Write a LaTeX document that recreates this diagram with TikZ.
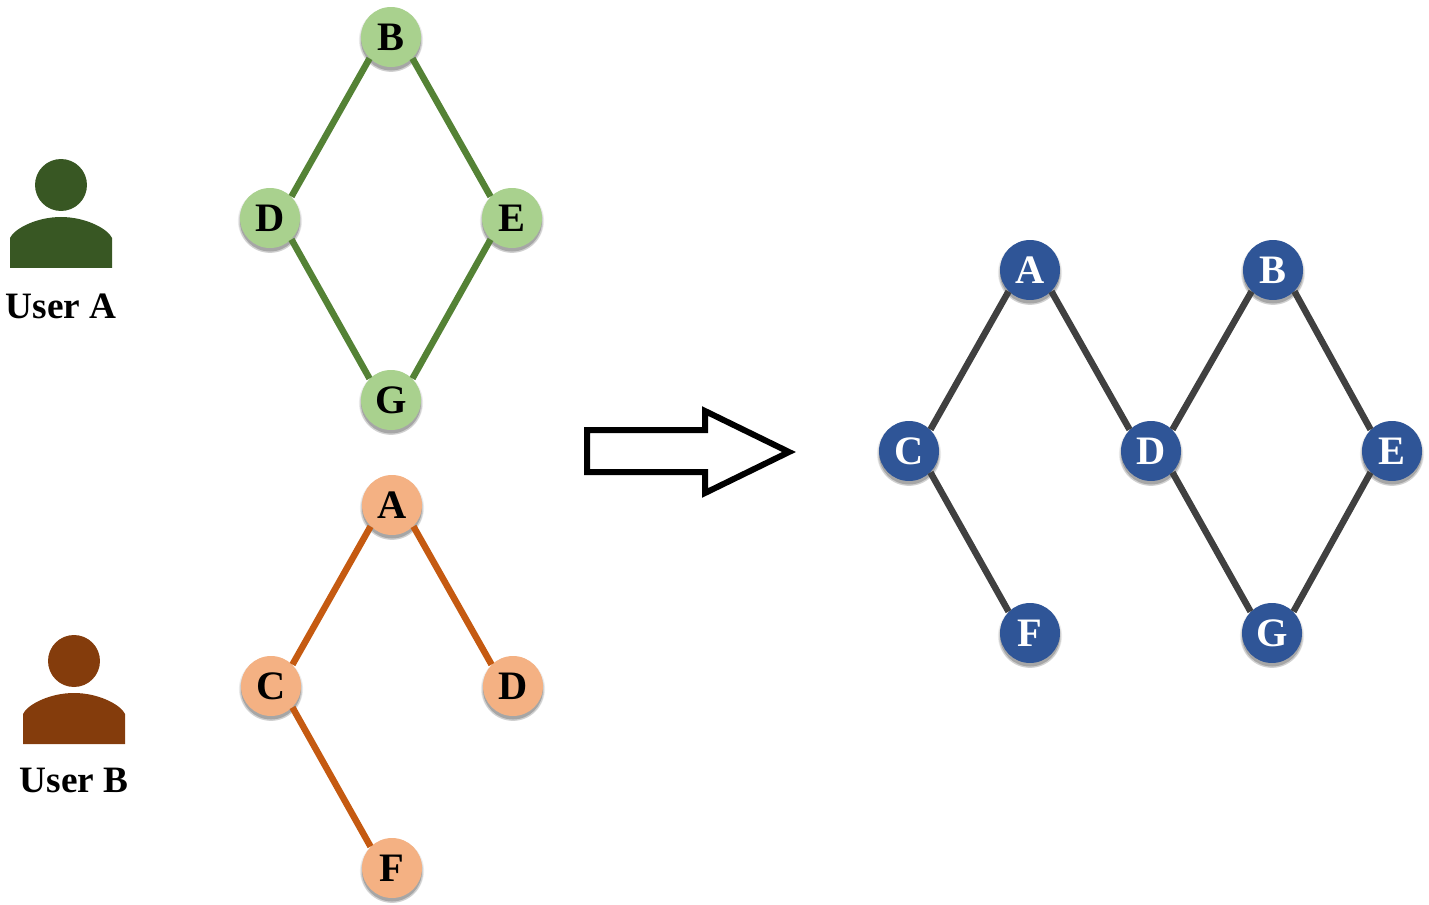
\documentclass[tikz,border=0pt]{standalone}
\usepackage{fontspec}
\setmainfont{Liberation Serif}
\usetikzlibrary{shadows}
\definecolor{greenfill}{HTML}{A9D18E}
\definecolor{greenline}{HTML}{548235}
\definecolor{orangefill}{HTML}{F4B183}
\definecolor{orangeline}{HTML}{C55A11}
\definecolor{bluefill}{HTML}{2F5597}
\definecolor{darkline}{HTML}{404040}
\definecolor{usergreen}{HTML}{385723}
\definecolor{userbrown}{HTML}{843C0C}
\tikzset{
  softshadow/.style={
    drop shadow={shadow xshift=0pt,shadow yshift=-1.5pt,shadow scale=1.07,fill=black,opacity=0.07},
    drop shadow={shadow xshift=0pt,shadow yshift=-2pt,shadow scale=1.04,fill=black,opacity=0.12},
    drop shadow={shadow xshift=0pt,shadow yshift=-2pt,shadow scale=1.0,fill=black,opacity=0.2}},
  vertex/.style={circle,minimum size=1.2cm,inner sep=0pt,softshadow,
    font=\fontsize{23}{28}\selectfont\bfseries,text height=15.2pt,text depth=0pt},
  greenvertex/.style={vertex,fill=greenfill},
  orangevertex/.style={vertex,fill=orangefill},
  bluevertex/.style={vertex,fill=bluefill,text=white},
  edge/.style={line width=0.13cm},
  head/.style={circle,minimum size=1.04cm,inner sep=0pt},
  username/.style={font=\fontsize{21.2}{24}\selectfont\bfseries}
}
\begin{document}
\begin{tikzpicture}[x=0.02cm,y=-0.02cm]
  \useasboundingbox (0,0) rectangle (1429,905);
  % user A
  \node[head,fill=usergreen] (headA) at (61,185) {};
  \fill[usergreen] (10,268) -- (10,238) .. controls (14,229) and (36,217) .. (61,217)
    .. controls (86,217) and (108,229) .. (112,238) -- (112,268) -- cycle;
  \node[username] (userA) at (61,306) {User A};
  % user B
  \node[head,fill=userbrown] (headB) at (74,661) {};
  \fill[userbrown] (23,744) -- (23,714) .. controls (27,705) and (49,693) .. (74,693)
    .. controls (99,693) and (121,705) .. (125,714) -- (125,744) -- cycle;
  \node[username] (userB) at (74,780) {User B};
  % graph of user A
  \node[greenvertex] (b1) at (391,37) {B};
  \node[greenvertex] (d1) at (270,218) {D};
  \node[greenvertex] (e1) at (512,218) {E};
  \node[greenvertex] (g1) at (391,400) {G};
  \draw[edge,greenline] (b1.225) -- (d1.45);
  \draw[edge,greenline] (b1.315) -- (e1.135);
  \draw[edge,greenline] (d1.315) -- (g1.135);
  \draw[edge,greenline] (e1.225) -- (g1.45);
  % graph of user B
  \node[orangevertex] (a2) at (392,505) {A};
  \node[orangevertex] (c2) at (271,686) {C};
  \node[orangevertex] (d2) at (513,686) {D};
  \node[orangevertex] (f2) at (392,868) {F};
  \draw[edge,orangeline] (a2.225) -- (c2.45);
  \draw[edge,orangeline] (a2.315) -- (d2.135);
  \draw[edge,orangeline] (c2.315) -- (f2.135);
  % the big arrow
  \draw[line width=0.12cm,miter limit=10] (587,430) -- (705,430) -- (705,411) -- (789,452)
    -- (705,493) -- (705,472) -- (587,472) -- cycle;
  % merged graph
  \node[bluevertex] (a3) at (1030,270) {A};
  \node[bluevertex] (b3) at (1273,270) {B};
  \node[bluevertex] (c3) at (909,451) {C};
  \node[bluevertex] (d3) at (1151,451) {D};
  \node[bluevertex] (e3) at (1392,451) {E};
  \node[bluevertex] (f3) at (1030,633) {F};
  \node[bluevertex] (g3) at (1272,633) {G};
  \draw[edge,darkline] (a3.225) -- (c3.45);
  \draw[edge,darkline] (a3.315) -- (d3.135);
  \draw[edge,darkline] (b3.225) -- (d3.45);
  \draw[edge,darkline] (b3.315) -- (e3.135);
  \draw[edge,darkline] (c3.315) -- (f3.135);
  \draw[edge,darkline] (d3.315) -- (g3.135);
  \draw[edge,darkline] (e3.225) -- (g3.45);
\end{tikzpicture}
\end{document}
